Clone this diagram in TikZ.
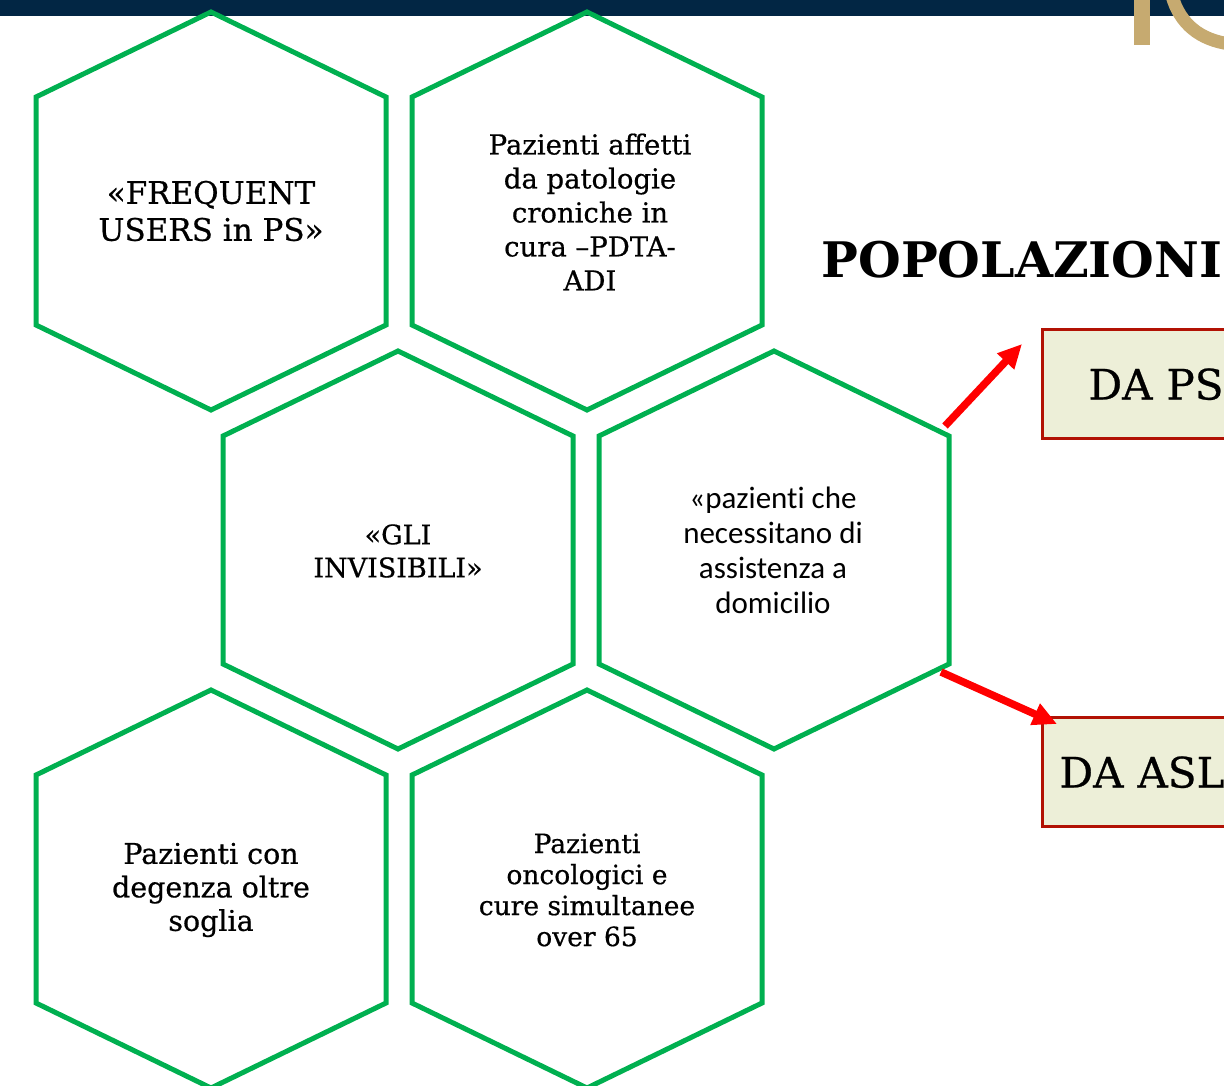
\documentclass[tikz,border=0pt]{standalone}
\usepackage{fontspec}
\setmainfont{DejaVu Serif}
\newfontfamily\heavyserif{DejaVu Serif}[FakeBold=0.6]
\newfontfamily\calibrifont{Carlito}[Ligatures=NoCommon]
\usetikzlibrary{arrows.meta,calc}

\definecolor{hexgreen}{RGB}{0,176,80}
\definecolor{bandnavy}{RGB}{2,38,68}
\definecolor{logogold}{RGB}{198,170,112}
\definecolor{boxfill}{RGB}{237,239,216}
\definecolor{boxred}{RGB}{178,18,4}

\tikzset{
  hexline/.style={draw=hexgreen, line width=5pt, line join=miter},
  hexcell/.pic={
    \draw[hexline] (0,-199) -- (175,-114) -- (175,114) -- (0,199) -- (-175,114) -- (-175,-114) -- cycle;
    \coordinate (-ne) at (175,-114);
    \coordinate (-se) at (175,114);
  },
  hextext/.style={align=center, text=black},
  srcbox/.style={draw=boxred, fill=boxfill, line width=3pt, minimum height=109pt,
    anchor=north west, align=left, text width=210pt, text height=31pt, text depth=0pt,
    font=\fontsize{42pt}{50pt}\selectfont},
  redarrow/.style={draw=red, line width=7.5pt, -{Triangle[length=24pt,width=22pt]}},
}

\begin{document}
\begin{tikzpicture}[x=1pt,y=-1pt]
\useasboundingbox (0,0) rectangle (1224,1086);
% top band and logo
\fill[bandnavy] (0,0) rectangle (1224,16);
\fill[logogold] (1134,0) rectangle (1150,45);
\draw[logogold, line width=13pt] (1172,-4) .. controls (1180,24) and (1200,40) .. (1230,44);

% hexagons
\pic (h1) at (211,211) {hexcell};
\pic (h2) at (587,211) {hexcell};
\pic (h3) at (398,550) {hexcell};
\pic (h4) at (774,550) {hexcell};
\pic (h5) at (211,889) {hexcell};
\pic (h6) at (587,889) {hexcell};

\node[hextext, font=\heavyserif\fontsize{31pt}{37pt}\selectfont] (frequent) at (211,211) {«FREQUENT\\USERS in PS»};
\node[hextext, font=\heavyserif\fontsize{27.5pt}{34pt}\selectfont] (cronici) at (590,212) {Pazienti affetti\\da patologie\\croniche in\\cura –PDTA-\\ADI};
\node[hextext, font=\heavyserif\fontsize{27pt}{33pt}\selectfont] (invisibili) at (398,551) {«GLI\\INVISIBILI»};
\node[hextext, font=\calibrifont\fontsize{31pt}{35pt}\selectfont] (domicilio) at (773,550) {«pazienti che\\necessitano di\\assistenza a\\domicilio};
\node[hextext, font=\heavyserif\fontsize{28.5pt}{33.5pt}\selectfont] (degenza) at (211,890) {Pazienti con\\degenza oltre\\soglia};
\node[hextext, font=\heavyserif\fontsize{26.5pt}{31pt}\selectfont] (oncologici) at (587,890) {Pazienti\\oncologici e\\cure simultanee\\over 65};

% populations
\node[anchor=base west, font=\bfseries\fontsize{49pt}{58pt}\selectfont] (popolazioni) at (818,278) {POPOLAZIONI};
\node[srcbox, inner xsep=46pt, font=\heavyserif\fontsize{42pt}{50pt}\selectfont] (ps) at (1041,328) {DA PS};
\node[srcbox, inner xsep=17pt, font=\heavyserif\fontsize{42pt}{50pt}\selectfont] (asl) at (1041,716) {DA ASL};

\coordinate (psTip) at ($(ps.north west)+(-19,16)$);
\coordinate (aslTip) at ($(asl.north west)+(16,8)$);
\draw[redarrow] ($(h4-ne)+(-4,-10)$) -- (psTip);
\draw[redarrow] ($(h4-se)+(-8,8)$) -- (aslTip);
\end{tikzpicture}
\end{document}
